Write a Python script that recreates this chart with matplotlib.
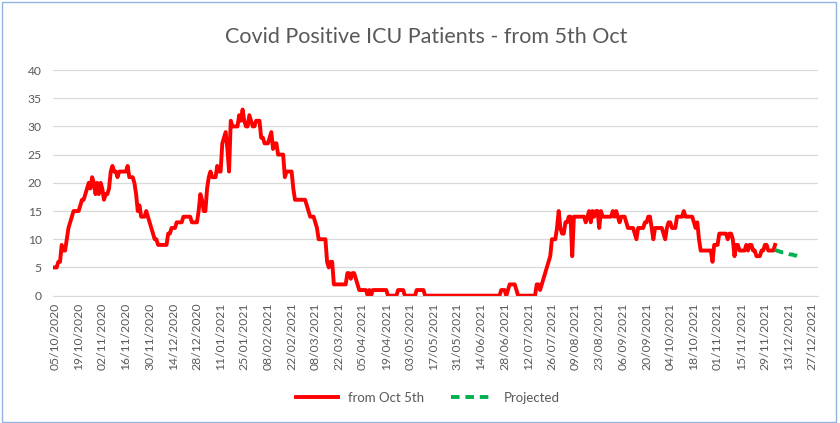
import numpy as np
import matplotlib.pyplot as plt
import matplotlib.dates as mdates
from matplotlib.patches import Rectangle

# ежедневные значения (пациенты ICU), начиная с 05/10/2020
start_date = np.datetime64('2020-10-05')
icu_patients = [
    5, 5, 6, 6, 9, 8, 8, 10, 12, 13, 14, 15, 15, 15,
    15, 16, 17, 17, 18, 19, 20, 19, 21, 20, 18, 20, 18, 20,
    19, 17, 18, 18, 19, 22, 23, 22, 22, 21, 22, 22, 22, 22,
    22, 23, 21, 21, 21, 20, 18, 15, 16, 14, 14, 14, 15, 14,
    13, 12, 11, 10, 10, 9, 9, 9, 9, 9, 9, 11, 11, 12,
    12, 12, 13, 13, 13, 13, 14, 14, 14, 14, 14, 13, 13, 13,
    13, 15, 18, 17, 15, 15, 19, 21, 22, 21, 21, 21, 23, 22,
    22, 27, 28, 29, 26, 22, 31, 30, 30, 30, 30, 32, 31, 33,
    31, 30, 30, 32, 31, 30, 30, 31, 31, 31, 28, 28, 27, 27,
    27, 28, 29, 26, 27, 27, 25, 25, 25, 25, 21, 22, 22, 22,
    22, 19, 17, 17, 17, 17, 17, 17, 17, 16, 15, 14, 14, 14,
    13, 12, 10, 10, 10, 10, 10, 6, 5, 6, 6, 2, 2, 2,
    2, 2, 2, 2, 2, 4, 4, 3, 4, 4, 3, 2, 1, 1,
    1, 1, 1, 0, 1, 0, 1, 1, 1, 1, 1, 1, 1, 1,
    1, 0, 0, 0, 0, 0, 0, 1, 1, 1, 1, 0, 0, 0,
    0, 0, 0, 0, 1, 1, 1, 1, 1, 0, 0, 0, 0, 0,
    0, 0, 0, 0, 0, 0, 0, 0, 0, 0, 0, 0, 0, 0,
    0, 0, 0, 0, 0, 0, 0, 0, 0, 0, 0, 0, 0, 0,
    0, 0, 0, 0, 0, 0, 0, 0, 0, 0, 0, 0, 1, 1,
    1, 0, 1, 2, 2, 2, 2, 1, 0, 0, 0, 0, 0, 0,
    0, 0, 0, 0, 0, 2, 2, 1, 2, 3, 4, 5, 6, 7,
    10, 10, 10, 12, 15, 12, 11, 11, 13, 13, 14, 14, 7, 14,
    14, 14, 14, 14, 14, 14, 13, 14, 15, 13, 15, 14, 15, 15,
    12, 15, 14, 14, 14, 14, 14, 14, 15, 14, 15, 14, 13, 14,
    14, 14, 13, 12, 12, 12, 12, 11, 10, 12, 12, 12, 12, 13,
    13, 14, 14, 12, 10, 12, 12, 12, 12, 12, 11, 10, 12, 13,
    13, 12, 12, 12, 14, 14, 14, 14, 15, 14, 14, 14, 14, 14,
    13, 12, 13, 10, 8, 8, 8, 8, 8, 8, 8, 6, 9, 9,
    9, 11, 11, 11, 11, 11, 10, 11, 11, 10, 7, 9, 9, 8,
    8, 8, 8, 9, 8, 9, 9, 8, 8, 7, 7, 7, 8, 8,
    9, 9, 8, 8, 8, 8, 9,
]

# прогноз
projected_start = np.datetime64('2021-12-05')
projected = [8.1, 8.0, 7.9, 7.8, 7.7, 7.7, 7.6, 7.5, 7.4, 7.3, 7.3, 7.2, 7.1, 7.1, 7.0]

tick_start = np.datetime64('2020-10-05')
tick_end = np.datetime64('2021-12-27')

dates = start_date + np.arange(len(icu_patients))
proj_dates = projected_start + np.arange(len(projected))

grey = '#595959'
plt.rcParams['font.family'] = ['Lato', 'DejaVu Sans']

fig = plt.figure(figsize=(8.4, 4.23), dpi=100)
ax = fig.add_axes([0.063, 0.301, 0.911, 0.5335])

ax.plot(dates.astype(object), icu_patients,
        color='#FF0000', lw=2.8, solid_joinstyle='round', label='from Oct 5th')
ax.plot(proj_dates.astype(object), projected, color='#00B050', lw=2.8,
        dashes=(2.2, 1.5), label='Projected')

ax.set_ylim(0, 40)
ax.set_yticks(range(0, 41, 5))
x0 = mdates.date2num(tick_start.astype(object))
ax.set_xlim(x0 - 1.2, x0 + 451.5)
ticks = np.arange(tick_start, tick_end + np.timedelta64(1, 'D'), np.timedelta64(14, 'D'))
ax.set_xticks([mdates.date2num(t.astype(object)) for t in ticks])
ax.xaxis.set_major_formatter(mdates.DateFormatter('%d/%m/%Y'))
plt.setp(ax.get_xticklabels(), rotation=90)

ax.grid(axis='y', color='#D9D9D9', lw=0.9)
ax.set_axisbelow(True)
for s in ['top', 'right', 'left']:
    ax.spines[s].set_visible(False)
ax.spines['bottom'].set_color('#D9D9D9')
ax.tick_params(axis='both', length=0, colors=grey, labelsize=8.7)
ax.tick_params(axis='y', pad=8)
ax.tick_params(axis='x', pad=5)

fig.text(0.507, 0.912, 'Covid Positive ICU Patients - from 5th Oct',
         ha='center', va='center', fontsize=15.5, color=grey)

fig.legend(loc='center', bbox_to_anchor=(0.509, 0.059), ncol=2, frameon=False,
           fontsize=9.5, labelcolor=grey, handlelength=3.2, columnspacing=2.0)

fig.patches.append(Rectangle((0.002, 0.003), 0.993, 0.993, transform=fig.transFigure,
                             fill=False, edgecolor='#8FB4E3', lw=1))

fig.savefig('out.png', dpi=100)
